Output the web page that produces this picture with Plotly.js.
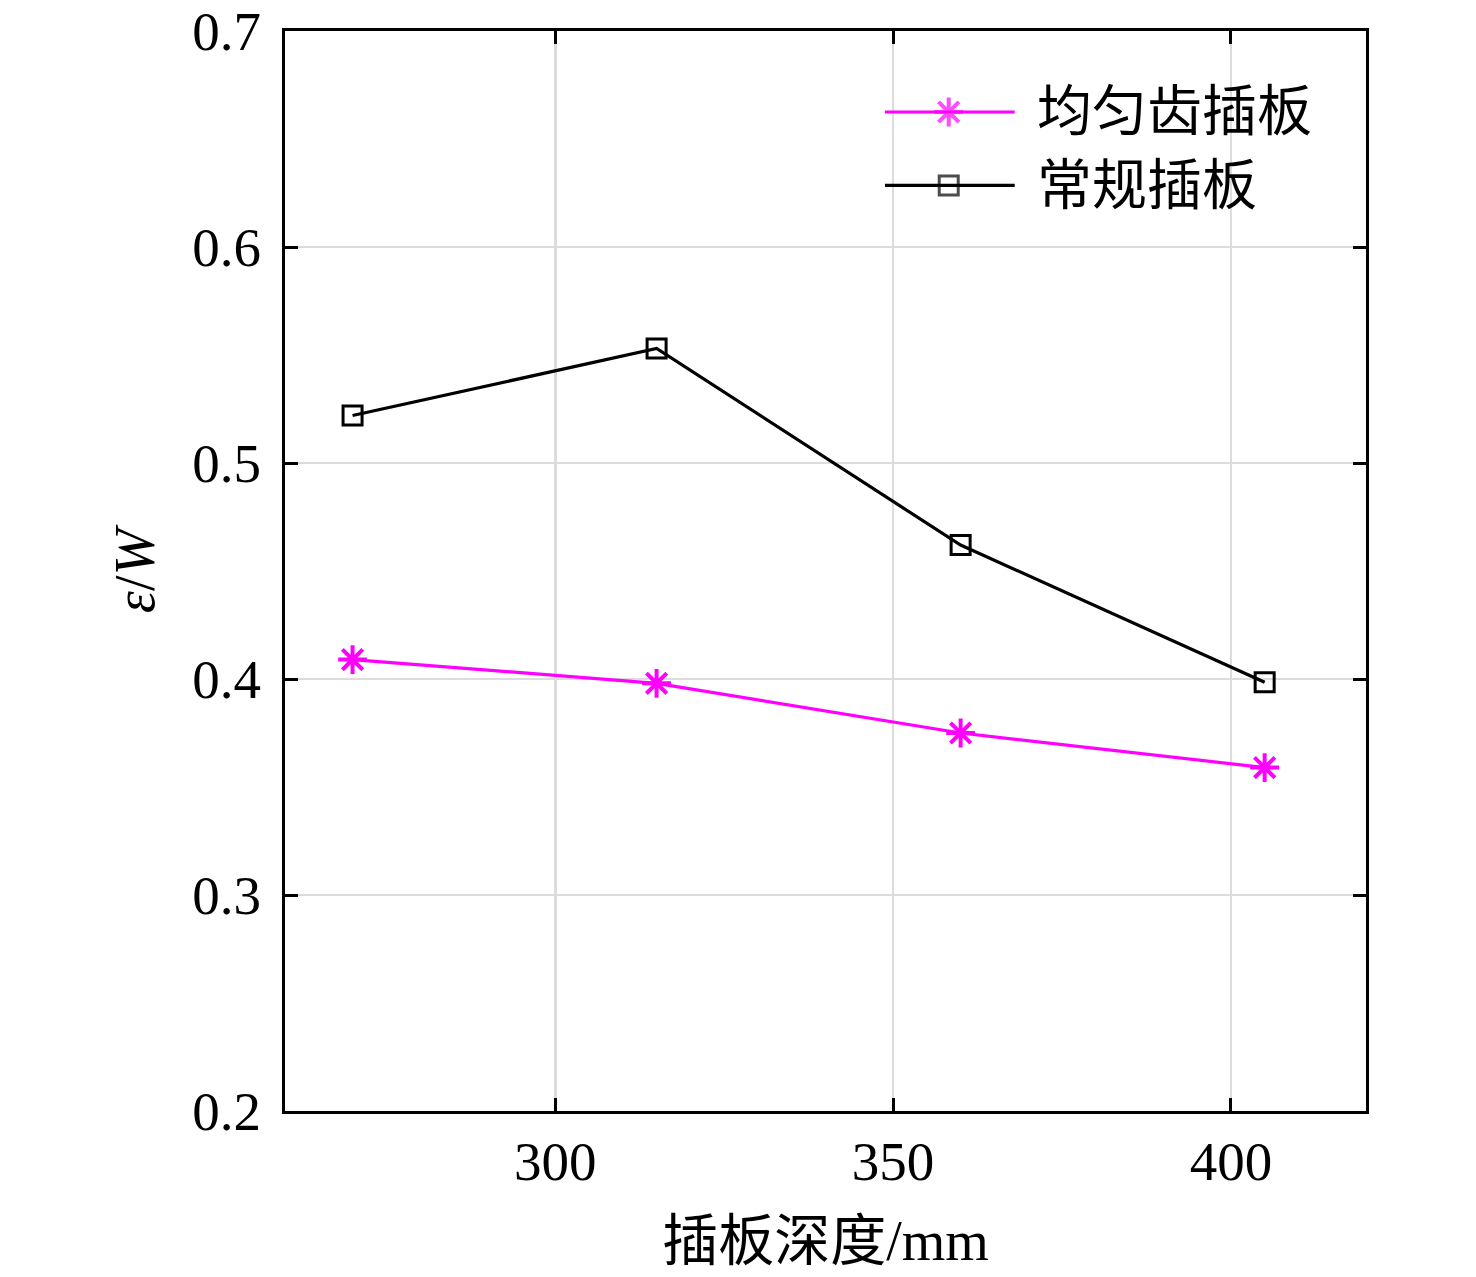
<!DOCTYPE html>
<html>
<head>
<meta charset="utf-8">
<script src="https://cdn.plot.ly/plotly-3.0.1.min.js"></script>
<style>
  html, body { margin: 0; padding: 0; background: #fff; }
  #chart { width: 1476px; height: 1277px; }
</style>
</head>
<body>
<div id="chart"></div>
<script>
/* ── data ── */
const depth      = [270, 315, 360, 405];            // 插板深度 / mm
const uniformVal = [0.409, 0.398, 0.375, 0.359];   // 均匀齿插板
const normalVal  = [0.522, 0.553, 0.462, 0.3985];  // 常规插板
const seriesNames = ["均匀齿插板", "常规插板"];
const xTicks = [300, 350, 400];
const yTicks = [0.2, 0.3, 0.4, 0.5, 0.6, 0.7];

const MAGENTA = "#ff00ff";
const BLACK   = "#000000";
const FONT    = "Liberation Serif, Times New Roman, Noto Sans CJK SC, serif";

const uniformStyle = {
  line: { color: MAGENTA, width: 3.2 },
  marker: { symbol: "asterisk-open", size: 24, color: MAGENTA, line: { color: MAGENTA, width: 4 } },
};
const normalStyle = {
  line: { color: BLACK, width: 3.2 },
  marker: { symbol: "square-open", size: 19, color: BLACK, line: { color: BLACK, width: 3 } },
};

/* ── 1. data traces ── */
const traces = [
  { type: "scatter", mode: "lines+markers", x: depth, y: uniformVal, name: seriesNames[0],
    ...uniformStyle, showlegend: false, cliponaxis: false },
  { type: "scatter", mode: "lines+markers", x: depth, y: normalVal, name: seriesNames[1],
    ...normalStyle, showlegend: false, cliponaxis: false },
];

/* ── 2. hand-made legend (long sample lines like the original) ── */
const LEG = { x0: 0.555, x1: 0.675, xm: 0.614, xt: 0.694, rows: [0.925, 0.857] };
[uniformStyle, normalStyle].forEach((st, i) => {
  const m = JSON.parse(JSON.stringify(st.marker));
  m.size = [0, st.marker.size, 0];
  traces.push({
    type: "scatter", mode: "lines+markers", xaxis: "x2", yaxis: "y2",
    x: [LEG.x0, LEG.xm, LEG.x1], y: [LEG.rows[i], LEG.rows[i], LEG.rows[i]],
    line: st.line, marker: m, showlegend: false, hoverinfo: "skip", cliponaxis: false,
  });
});

const annotations = seriesNames.map((n, i) => ({
  xref: "paper", yref: "paper", x: LEG.xt, y: LEG.rows[i],
  text: n, showarrow: false, xanchor: "left", yanchor: "middle",
  font: { family: FONT, size: 55, color: BLACK },
}));

const shapes = [{
  type: "rect", xref: "paper", yref: "paper",
  x0: 0.552, x1: 0.975, y0: 0.82, y1: 0.963,
  fillcolor: "#ffffff", line: { width: 0 }, layer: "between",
}];

/* ── 3. layout ── */
const axisCommon = {
  showline: true, linecolor: BLACK, linewidth: 3, mirror: "ticks",
  ticks: "inside", ticklen: 13, tickwidth: 3, tickcolor: BLACK,
  showgrid: true, gridcolor: "#dcdcdc", gridwidth: 2.5,
  zeroline: false, ticklabeloverflow: "allow",
  tickfont: { family: FONT, size: 55, color: BLACK },
};

const layout = {
  width: 1476, height: 1277,
  paper_bgcolor: "#ffffff", plot_bgcolor: "#ffffff",
  margin: { l: 285, r: 110, t: 31, b: 166 },
  font: { family: FONT, color: BLACK },
  showlegend: false,
  xaxis: {
    ...axisCommon,
    range: [260, 420], tickvals: xTicks, ticktext: xTicks.map(String),
    ticklabelstandoff: 0,
    title: { text: "插板深度/mm", font: { family: FONT, size: 56, color: BLACK }, standoff: 30 },
  },
  yaxis: {
    ...axisCommon,
    range: [0.2, 0.7], tickvals: yTicks, ticktext: yTicks.map(v => v.toFixed(1)),
    ticklabelstandoff: 10,
    title: { text: "<i>ε</i>/<i>W</i>", font: { family: FONT, size: 56, color: BLACK }, standoff: 20 },
  },
  xaxis2: { overlaying: "x", range: [0, 1], visible: false, fixedrange: true },
  yaxis2: { overlaying: "y", range: [0, 1], visible: false, fixedrange: true },
  shapes, annotations,
};

Plotly.newPlot("chart", traces, layout, { displayModeBar: false, staticPlot: true });
</script>
</body>
</html>
